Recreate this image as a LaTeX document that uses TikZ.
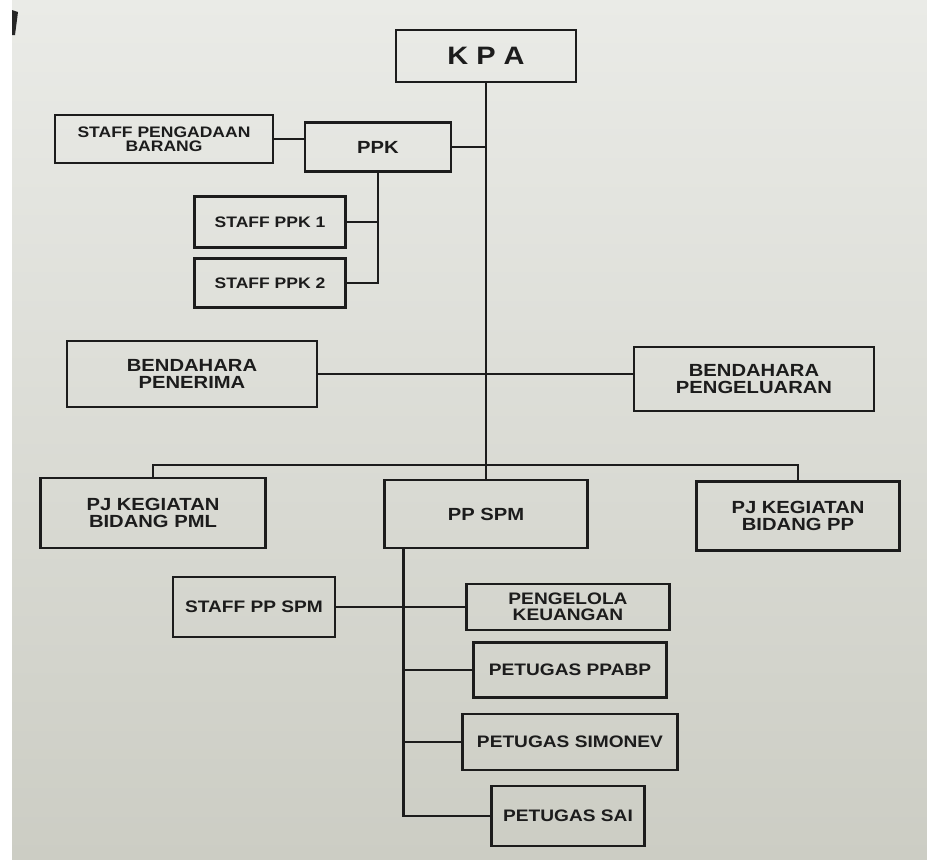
\documentclass[tikz,border=0pt]{standalone}
\usepackage{fontspec}
\newfontfamily\chartfont{Liberation Sans}[FakeStretch=1.15]
\definecolor{paperTop}{RGB}{234,235,231}
\definecolor{paperLow}{RGB}{204,205,196}
\definecolor{ink}{RGB}{28,28,28}
\tikzset{
  box/.style={draw=ink, text=ink, line width=1.8pt, align=center, inner sep=1pt},
  link/.style={draw=ink, line width=2.1pt},
  big/.style={font=\chartfont\bfseries\fontsize{21.5}{23}\selectfont},
  mid/.style={font=\chartfont\bfseries\fontsize{15}{14.5}\selectfont},
  small/.style={font=\chartfont\bfseries\fontsize{13}{12}\selectfont},
  low/.style={font=\chartfont\bfseries\fontsize{14.2}{14}\selectfont}
}
\begin{document}
\begin{tikzpicture}[x=0.03cm,y=-0.03cm]
		\fill[white] (0,0) rectangle (927,859);
		\shade[top color=paperTop,bottom color=paperLow] (12,0) rectangle (927,859);
		\fill[black!85] (12,10) -- (18,12) -- (15,35) -- (12,35) -- cycle;
		\useasboundingbox (0,0) rectangle (927,859);

		% top level
		\node[box,big,minimum width=5.4cm,minimum height=1.56cm] (kpa) at (486,56) {K P A};
		\node[box,mid,minimum width=4.38cm,minimum height=1.47cm] (ppk) at (378,147) {PPK};
		\node[box,small,minimum width=6.54cm,minimum height=1.44cm] (pengadaan) at (164,139) {STAFF PENGADAAN\\BARANG};
		\node[box,small,minimum width=4.53cm,minimum height=1.53cm] (staffppk1) at (270,222) {STAFF PPK 1};
		\node[box,small,minimum width=4.53cm,minimum height=1.47cm] (staffppk2) at (270,283) {STAFF PPK 2};

		% bendahara
		\node[box,mid,minimum width=7.5cm,minimum height=1.98cm] (penerima) at (192,374) {BENDAHARA\\PENERIMA};
		\node[box,mid,minimum width=7.2cm,minimum height=1.92cm] (pengeluaran) at (754,379) {BENDAHARA\\PENGELUARAN};

		% kegiatan
		\node[box,mid,minimum width=6.75cm,minimum height=2.1cm] (pjpml) at (153,513) {PJ KEGIATAN\\BIDANG PML};
		\node[box,mid,minimum width=6.09cm,minimum height=2.04cm] (ppspm) at (486,514) {PP SPM};
		\node[box,mid,minimum width=6.09cm,minimum height=2.07cm] (pjpp) at (798,516) {PJ KEGIATAN\\BIDANG PP};

		% under pp spm
		\node[box,low,minimum width=4.86cm,minimum height=1.8cm] (staffspm) at (254,607) {STAFF PP SPM};
		\node[box,low,minimum width=6.09cm,minimum height=1.38cm] (pengelola) at (568,607) {PENGELOLA\\KEUANGAN};
		\node[box,low,minimum width=5.79cm,minimum height=1.65cm] (ppabp) at (570,670) {PETUGAS PPABP};
		\node[box,low,minimum width=6.45cm,minimum height=1.68cm] (simonev) at (570,742) {PETUGAS SIMONEV};
		\node[box,low,minimum width=4.59cm,minimum height=1.8cm] (sai) at (568,816) {PETUGAS SAI};

		\coordinate (bus) at (486,465);
		\coordinate (trunk) at ([xshift=0.6cm]ppspm.south west);

		% connectors
		\draw[link] (kpa.south) -- (ppspm.north);
		\draw[link] (ppk.east) -- (ppk.east -| kpa.south);
		\draw[link] (pengadaan.east) -- (pengadaan.east -| ppk.west);
		\draw[link] (ppk.south) |- (staffppk2.east);
		\draw[link] (staffppk1.east) -- (staffppk1.east -| ppk.south);
		\draw[link] (penerima.east) -- (penerima.east -| pengeluaran.west);
		\draw[link] (pjpml.north) |- (bus) -| (pjpp.north);
		\draw[link] (trunk) |- (sai.west);
		\draw[link] (staffspm.east) -- (pengelola.west);
		\draw[link] (trunk |- ppabp.west) -- (ppabp.west);
		\draw[link] (trunk |- simonev.west) -- (simonev.west);
	\end{tikzpicture}
\end{document}
